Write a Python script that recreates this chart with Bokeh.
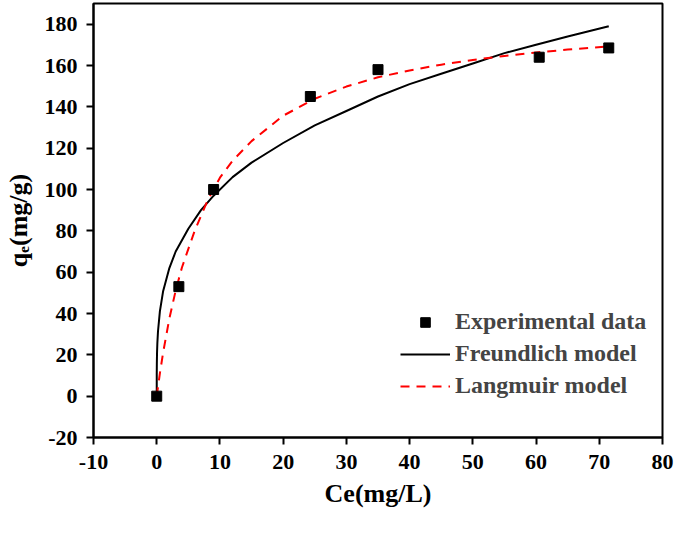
from bokeh.plotting import figure
from bokeh.models import Range1d, Legend, LegendItem, FixedTicker, PrintfTickFormatter
from bokeh.embed import file_html
from bokeh.resources import INLINE

# Experimental data
ce_exp = [0.0, 3.5, 9.0, 24.3, 35.0, 60.5, 71.5]
qe_exp = [0.0, 53.0, 100.0, 145.0, 158.0, 164.0, 168.5]

# Freundlich model curve
ce_fr = [0.0, 0.005, 0.02, 0.05, 0.1, 0.2, 0.5, 1, 2, 3, 5, 7, 9, 12, 15, 20, 25, 30, 35, 40, 45, 50, 55, 60, 65, 71.5]
qe_fr = [0.0, 10.3, 16.0, 21.0, 25.6, 31.3, 41.0, 50.6, 62.0, 70.0, 81.0, 90.0, 97.0, 106.0, 113.0, 122.5, 131.0, 138.0, 145.0, 151.0, 156.0, 161.0, 166.0, 170.0, 174.0, 179.0]

# Langmuir model curve
ce_la = [0.0, 0.5, 1, 2, 3, 4, 6, 8, 10, 12, 15, 20, 25, 30, 35, 40, 45, 50, 55, 60, 65, 71.5]
qe_la = [0.0, 11.0, 20.9, 37.6, 51.1, 62.4, 80.0, 94.4, 105.7, 113.9, 123.4, 135.7, 143.9, 149.8, 154.3, 157.6, 160.4, 162.7, 164.6, 166.3, 167.7, 169.3]

x_ticks = [-10, 0, 10, 20, 30, 40, 50, 60, 70, 80]
y_ticks = [-20, 0, 20, 40, 60, 80, 100, 120, 140, 160, 180]

FONT = "'Liberation Serif'"

p = figure(width=669, height=517, frame_width=569, frame_height=434,
           output_backend="svg", toolbar_location=None,
           x_range=Range1d(-10, 80), y_range=Range1d(-20, 190),
           min_border_left=88, min_border_right=12, min_border_top=3, min_border_bottom=80)

p.xgrid.visible = False
p.ygrid.visible = False
p.outline_line_color = "black"
p.outline_line_width = 2
p.outline_line_alpha = 1.0

for ax, ticks in ((p.xaxis[0], x_ticks), (p.yaxis[0], y_ticks)):
    ax.ticker = FixedTicker(ticks=ticks)
    ax.formatter = PrintfTickFormatter(format="%d")
    ax.minor_tick_line_color = None
    ax.major_tick_out = 7
    ax.major_tick_in = 0
    ax.major_tick_line_width = 2
    ax.axis_line_width = 2
    ax.major_label_text_font = FONT
    ax.major_label_text_font_style = "bold"
    ax.major_label_text_font_size = "22px"
    ax.major_label_text_color = "black"
    ax.axis_label_text_font = FONT
    ax.axis_label_text_font_style = "bold"
    ax.axis_label_text_font_size = "26px"
    ax.axis_label_text_color = "black"

p.xaxis.axis_label = "Ce(mg/L)"
p.yaxis.axis_label = "qₑ(mg/g)"
p.xaxis.major_label_standoff = 10
p.xaxis.axis_label_standoff = 7
p.yaxis.major_label_standoff = 9
p.yaxis.axis_label_standoff = 9

r_fr = p.line(ce_fr, qe_fr, line_color="black", line_width=2)
r_la = p.line(ce_la, qe_la, line_color="red", line_width=2, line_dash="9 7")
r_exp = p.scatter(ce_exp, qe_exp, marker="square", size=10, fill_color="black", line_color="black")

legend = Legend(items=[
    LegendItem(label="Experimental data", renderers=[r_exp]),
    LegendItem(label="Freundlich model", renderers=[r_fr]),
    LegendItem(label="Langmuir model", renderers=[r_la]),
], location=(307, 38))
legend.border_line_color = None
legend.background_fill_alpha = 0
legend.label_text_font = FONT
legend.label_text_font_style = "bold"
legend.label_text_font_size = "24px"
legend.glyph_width = 50
legend.glyph_height = 24
legend.spacing = 5
legend.label_standoff = 5
legend.padding = 5
p.add_layout(legend)

open("out.html", "w").write(file_html(p, INLINE))
